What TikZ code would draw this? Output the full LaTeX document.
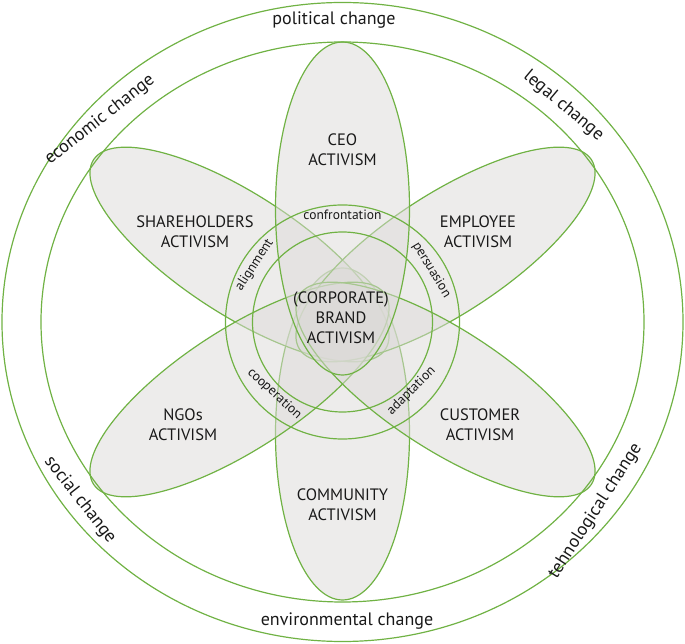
\documentclass[tikz,border=0pt]{standalone}
\usepackage{fontspec}
\setmainfont{PT Sans}
\definecolor{ringgreen}{RGB}{112,178,68}
\definecolor{petalgray}{RGB}{220,218,216}
\definecolor{labeltext}{RGB}{25,25,25}
\begin{document}
\begin{tikzpicture}[x=1pt,y=1pt,
  ring/.style={draw=ringgreen, line width=1.2pt},
  petal/.style={draw=ringgreen, line width=1.2pt, fill=petalgray, fill opacity=0.5},
  actor/.style={align=center, text=labeltext, font=\fontsize{16.5}{20}\selectfont},
  change/.style={text=labeltext, font=\fontsize{18}{20}\selectfont},
  mode/.style={text=labeltext, font=\fontsize{13.5}{15}\selectfont}]
\useasboundingbox (-342.5,-322) rectangle (342.5,322);

% the six petals
\draw[petal] (0,-112) ellipse [x radius=67, y radius=166];
\draw[petal, rotate around={-33:(-103,67.5)}] (-103,67.5) ellipse [x radius=174, y radius=60];
\draw[petal, rotate around={33:(103,67.5)}] (103,67.5) ellipse [x radius=174, y radius=60];
\draw[petal, rotate around={33:(-103,-67.5)}] (-103,-67.5) ellipse [x radius=174, y radius=60];
\draw[petal, rotate around={-33:(103,-67.5)}] (103,-67.5) ellipse [x radius=174, y radius=60];
\draw[petal] (0,113.5) ellipse [x radius=67, y radius=166.5];

% rings
\draw[ring] (0,0) ellipse [x radius=340.5, y radius=319.5];
\draw[ring] (0,0) ellipse [x radius=301.5, y radius=280];
\draw[ring] (0,0) circle [radius=117];
\draw[ring] (0,0) circle [radius=90];

% actors
\node[actor] (ceo) at (0,172) {CEO\\ACTIVISM};
\node[actor] (shareholders) at (-147.5,90) {SHAREHOLDERS\\ACTIVISM};
\node[actor] (employee) at (135.5,90) {EMPLOYEE\\ACTIVISM};
\node[actor] (ngos) at (-159.5,-103) {NGOs\\ACTIVISM};
\node[actor] (customer) at (137.5,-103) {CUSTOMER\\ACTIVISM};
\node[actor] (community) at (0,-183) {COMMUNITY\\ACTIVISM};
\node[actor] (brand) at (-1.5,4) {(CORPORATE)\\BRAND\\ACTIVISM};

% modes between the centre rings
\node[mode] (confrontation) at (0,107) {confrontation};
\node[mode, rotate=57] (alignment) at (-88,57) {alignment};
\node[mode, rotate=-59] (persuasion) at (89,52) {persuasion};
\node[mode, rotate=-43] (cooperation) at (-68,-72) {cooperation};
\node[mode, rotate=45] (adaptation) at (69,-69) {adaptation};

% changes between the outer rings
\node[change] (political) at (-8.5,302) {political change};
\node[change, rotate=38] (economic) at (-242.5,202) {economic change};
\node[change, rotate=-40] (legal) at (221,216) {legal change};
\node[change, rotate=-52] (social) at (-262.5,-178) {social change};
\node[change, rotate=57] (technological) at (253,-189) {tehnological change};
\node[change] (environmental) at (4.5,-299) {environmental change};
\end{tikzpicture}
\end{document}
